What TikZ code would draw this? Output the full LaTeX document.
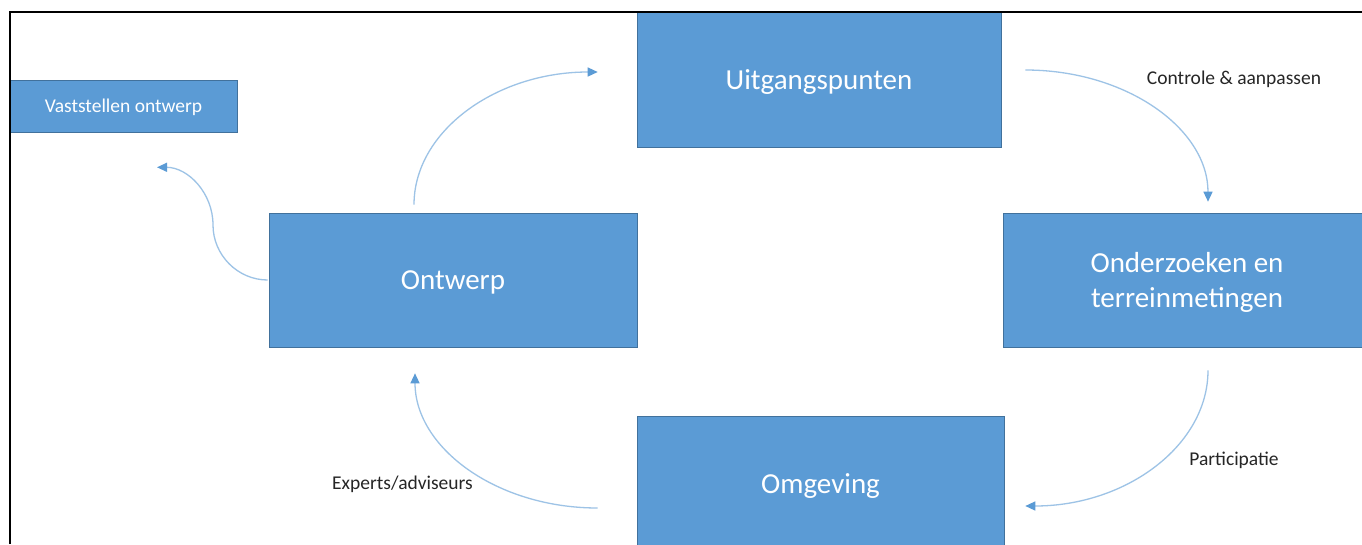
\documentclass[tikz,border=0pt]{standalone}
\usepackage{fontspec}
\setmainfont{Carlito}
\usetikzlibrary{arrows.meta}
\definecolor{boxblue}{HTML}{5B9BD5}
\definecolor{boxedge}{HTML}{41719C}
\definecolor{linkblue}{HTML}{9DC3E6}
\definecolor{txt}{HTML}{262626}
\begin{document}
\begin{tikzpicture}[x=1pt,y=-1pt,
  box/.style={draw=boxedge, line width=0.6pt, fill=boxblue, text=white,
    font=\fontsize{29}{35}\selectfont, align=center, inner sep=0pt, text depth=0pt},
  smallbox/.style={box, font=\fontsize{19.5}{23}\selectfont},
  link/.style={draw=linkblue, line width=1.3pt,
    -{Triangle[length=10pt,width=9pt,color=boxblue]}},
  lbl/.style={text=txt, font=\fontsize{19.5}{23}\selectfont, inner sep=0pt}]
\useasboundingbox (0,0) rectangle (1362,544);
\clip (0,0) rectangle (1362,544);
\fill[white] (0,0) rectangle (1362,544);

% boxes
\node[smallbox, minimum width=227pt, minimum height=52pt] (vast) at (123.5,106) {Vaststellen ontwerp};
\node[box, minimum width=364pt, minimum height=135pt] (uit) at (819,79.5) {Uitgangspunten};
\node[box, minimum width=368pt, minimum height=134pt] (ontw) at (453,280) {Ontwerp};
\node[box, minimum width=368pt, minimum height=134pt] (ond) at (1187,280) {Onderzoeken en\\terreinmetingen};
\node[box, minimum width=367pt, minimum height=135pt] (omg) at (820.5,483.5) {Omgeving};

% connector end points
\coordinate (a1s) at ([xshift=-39pt,yshift=8pt]ontw.north);
\coordinate (a1e) at ([xshift=-39pt,yshift=7.5pt]uit.west);
\coordinate (a2s) at ([xshift=24pt,yshift=9.5pt]uit.east);
\coordinate (a2e) at ([xshift=21pt,yshift=11pt]ond.north);
\coordinate (a3s) at ([xshift=21pt,yshift=-23pt]ond.south);
\coordinate (a3e) at ([xshift=21pt,yshift=-22.5pt]omg.east);
\coordinate (a4s) at ([xshift=-39pt,yshift=-24.5pt]omg.west);
\coordinate (a4e) at ([xshift=-38pt,yshift=-26pt]ontw.south);
\coordinate (a5s) at ([xshift=-1pt]ontw.west);
\coordinate (a5m) at (213,225);
\coordinate (a5e) at ([xshift=33.5pt,yshift=-35pt]vast.south);

% connectors
\draw[link] (a1s) .. controls +(0,-73.5) and +(-101.6,0) .. (a1e);
\draw[link] (a2s) .. controls +(101,0) and +(0,-73) .. (a2e);
\draw[link] (a3s) .. controls +(0,75) and +(101,0) .. (a3e);
\draw[link] (a4s) .. controls +(-101,0) and +(0,74.6) .. (a4e);
\draw[link] (a5s) .. controls +(-30,0) and +(0,30) .. (a5m)
  .. controls +(0,-32) and +(31,0) .. (a5e);

% labels
\node[lbl] (l1) at (1234,79) {Controle \& aanpassen};
\node[lbl] (l2) at (1234,460) {Participatie};
\node[lbl] (l3) at (402.5,484) {Experts/adviseurs};

% frame
\draw[line width=2pt, black] (10,544) -- (10,12) -- (1362,12);
\end{tikzpicture}
\end{document}
